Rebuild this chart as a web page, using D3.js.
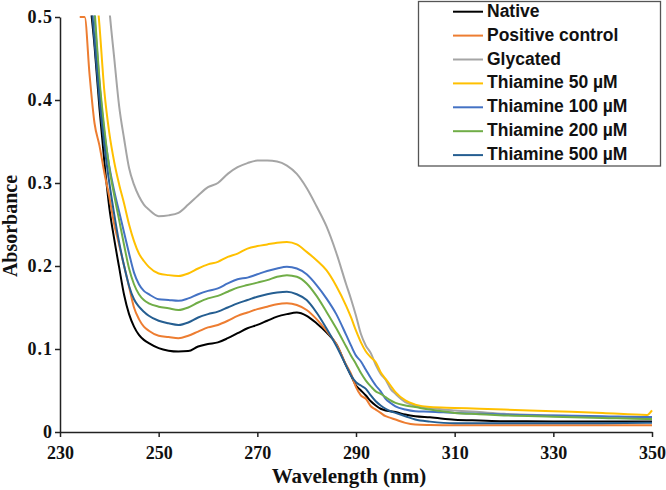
<!DOCTYPE html>
<html>
<head>
<meta charset="utf-8">
<script src="https://cdn.jsdelivr.net/npm/d3@7"></script>
<style>
  body { margin: 0; background: #fff; }
  svg { display: block; }
</style>
</head>
<body>
<script>
// ---- data ----
const wavelengths = [234,235,236,237,238,239,240,241,242,243,244,245,246,247,248,250,252,254,256,258,260,262,264,266,268,270,272,274,276,278,280,282,284,286,288,289,290,291,292,293,294,295,296,297,298,300,302,305,310,315,320,330,340,349,350];

const seriesNames = ["Native","Positive control","Glycated","Thiamine 50 \u00b5M","Thiamine 100 \u00b5M","Thiamine 200 \u00b5M","Thiamine 500 \u00b5M"];
const seriesColors = ["#000000","#ED7D31","#A5A5A5","#FFC000","#4472C4","#70AD47","#255E91"];

const native = [0.75,0.63,0.53,0.465,0.39,0.325,0.27,0.232,0.198,0.165,0.142,0.127,0.117,0.111,0.107,0.101,0.098,0.097,0.0975,0.103,0.106,0.108,0.113,0.119,0.125,0.129,0.134,0.139,0.142,0.144,0.140,0.131,0.120,0.106,0.080,0.068,0.056,0.050,0.044,0.037,0.032,0.028,0.026,0.025,0.024,0.021,0.019,0.0177,0.0148,0.0138,0.013,0.0128,0.0127,0.0126,0.0126];
const positiveControl = [0.5,0.5,0.43,0.372,0.345,0.312,0.283,0.25,0.225,0.2,0.175,0.15,0.136,0.127,0.122,0.116,0.1145,0.113,0.116,0.121,0.126,0.129,0.134,0.140,0.144,0.148,0.151,0.154,0.155,0.153,0.147,0.136,0.122,0.106,0.081,0.070,0.054,0.044,0.040,0.031,0.027,0.023,0.019,0.017,0.015,0.011,0.009,0.0085,0.0082,0.008,0.008,0.008,0.008,0.008,0.008];
const glycated = [1.1,1.0,0.9,0.78,0.68,0.59,0.51,0.45,0.392,0.353,0.318,0.298,0.284,0.274,0.268,0.26,0.261,0.264,0.274,0.285,0.295,0.30,0.311,0.319,0.324,0.327,0.327,0.326,0.321,0.311,0.294,0.272,0.248,0.216,0.178,0.16,0.14,0.118,0.104,0.095,0.081,0.07,0.063,0.052,0.046,0.036,0.032,0.029,0.026,0.024,0.022,0.02,0.018,0.0165,0.0165];
const thiamine50 = [0.9,0.75,0.64,0.56,0.49,0.41,0.36,0.325,0.298,0.275,0.25,0.23,0.215,0.206,0.199,0.191,0.189,0.188,0.191,0.197,0.202,0.205,0.211,0.215,0.221,0.224,0.226,0.228,0.229,0.226,0.217,0.207,0.195,0.176,0.152,0.138,0.122,0.108,0.097,0.090,0.084,0.072,0.064,0.056,0.048,0.038,0.033,0.030,0.029,0.028,0.027,0.025,0.023,0.0205,0.026];
const thiamine100 = [0.85,0.7,0.58,0.5,0.42,0.36,0.32,0.29,0.265,0.24,0.215,0.192,0.178,0.17,0.166,0.16,0.159,0.158,0.161,0.166,0.17,0.173,0.179,0.184,0.186,0.19,0.194,0.197,0.199,0.197,0.19,0.177,0.161,0.142,0.117,0.104,0.092,0.085,0.075,0.065,0.056,0.049,0.040,0.035,0.031,0.027,0.025,0.0245,0.023,0.022,0.021,0.02,0.019,0.018,0.018];
const thiamine200 = [0.85,0.72,0.6,0.51,0.425,0.365,0.318,0.285,0.255,0.225,0.197,0.178,0.166,0.159,0.155,0.151,0.149,0.147,0.150,0.156,0.161,0.164,0.169,0.174,0.177,0.180,0.183,0.187,0.189,0.187,0.179,0.164,0.145,0.125,0.103,0.092,0.082,0.071,0.062,0.055,0.049,0.046,0.042,0.038,0.035,0.032,0.030,0.027,0.023,0.0215,0.020,0.0185,0.017,0.0158,0.0158];
const thiamine500 = [0.8,0.66,0.55,0.47,0.4,0.345,0.3,0.262,0.228,0.2,0.176,0.16,0.151,0.145,0.140,0.134,0.131,0.129,0.132,0.138,0.142,0.145,0.15,0.155,0.159,0.163,0.166,0.168,0.169,0.166,0.159,0.144,0.125,0.104,0.08,0.068,0.06,0.056,0.052,0.044,0.037,0.032,0.028,0.025,0.023,0.019,0.015,0.0125,0.0105,0.0105,0.0105,0.0105,0.0105,0.011,0.011];

const xTicks = [230,250,270,290,310,330,350];
const yTicks = [0,0.1,0.2,0.3,0.4,0.5];
const xTitle = "Wavelength (nm)";
const yTitle = "Absorbance";

const seriesValues = [native, positiveControl, glycated, thiamine50, thiamine100, thiamine200, thiamine500];

// ---- chart ----
const W = 666, H = 490;
const svg = d3.select("body").append("svg").attr("width", W).attr("height", H);

const x = d3.scaleLinear().domain([230, 350]).range([60, 652]);
const y = d3.scaleLinear().domain([0, 0.5]).range([432, 17]);

svg.append("defs").append("clipPath").attr("id", "plotclip")
  .append("rect").attr("x", 60).attr("y", 15.5).attr("width", 594).attr("height", 418);

const line = d3.line()
  .defined(d => d[1] != null)
  .x(d => x(d[0]))
  .y(d => y(d[1]))
  .curve(d3.curveMonotoneX);

const plot = svg.append("g").attr("clip-path", "url(#plotclip)");
seriesValues.forEach((vals, i) => {
  plot.append("path")
    .datum(wavelengths.map((w, j) => [w, vals[j]]))
    .attr("fill", "none")
    .attr("stroke", seriesColors[i])
    .attr("stroke-width", 2)
    .attr("stroke-linejoin", "round")
    .attr("d", line);
});

// axes
const serif = "'Liberation Serif', 'Times New Roman', serif";
const yAxis = svg.append("g").attr("transform", "translate(60,0)")
  .call(d3.axisLeft(y).tickValues(yTicks).tickSize(5).tickSizeOuter(0).tickPadding(3)
    .tickFormat(d => d === 0 ? "0" : d3.format(".1f")(d)));
const xAxis = svg.append("g").attr("transform", "translate(0,432)")
  .call(d3.axisBottom(x).tickValues(xTicks).tickSize(5).tickSizeOuter(0).tickPadding(9)
    .tickFormat(d3.format("d")));

[yAxis, xAxis].forEach(a => {
  a.select(".domain").attr("stroke", "#222").attr("stroke-width", 1.5);
  a.selectAll(".tick line").attr("stroke", "#222").attr("stroke-width", 1.5);
  a.selectAll(".tick text")
    .attr("fill", "#111")
    .style("font-family", serif)
    .style("font-weight", "bold")
    .style("font-size", "18px");
});
yAxis.selectAll(".tick text").style("letter-spacing", "1px").attr("dx", "1px");

svg.append("text")
  .attr("x", 349).attr("y", 483)
  .attr("text-anchor", "middle")
  .style("font-family", serif).style("font-weight", "bold").style("font-size", "21px")
  .attr("fill", "#111")
  .text(xTitle);

svg.append("text")
  .attr("transform", "translate(17,226) rotate(-90)")
  .attr("text-anchor", "middle")
  .style("font-family", serif).style("font-weight", "bold").style("font-size", "20px")
  .attr("fill", "#111")
  .text(yTitle);

// legend
const lg = svg.append("g");
lg.append("rect")
  .attr("x", 418.5).attr("y", 1.5).attr("width", 242).attr("height", 164.5)
  .attr("fill", "#fff").attr("stroke", "#555").attr("stroke-width", 1.3);

seriesNames.forEach((name, i) => {
  const by = 16.7 + i * 23.9;
  lg.append("line")
    .attr("x1", 453).attr("x2", 483)
    .attr("y1", by - 5).attr("y2", by - 5)
    .attr("stroke", seriesColors[i]).attr("stroke-width", 2);
  lg.append("text")
    .attr("x", 487).attr("y", by)
    .style("font-family", "'Liberation Sans', Arial, sans-serif")
    .style("font-weight", "bold").style("font-size", "17.5px")
    .attr("fill", "#111")
    .text(name);
});
</script>
</body>
</html>
